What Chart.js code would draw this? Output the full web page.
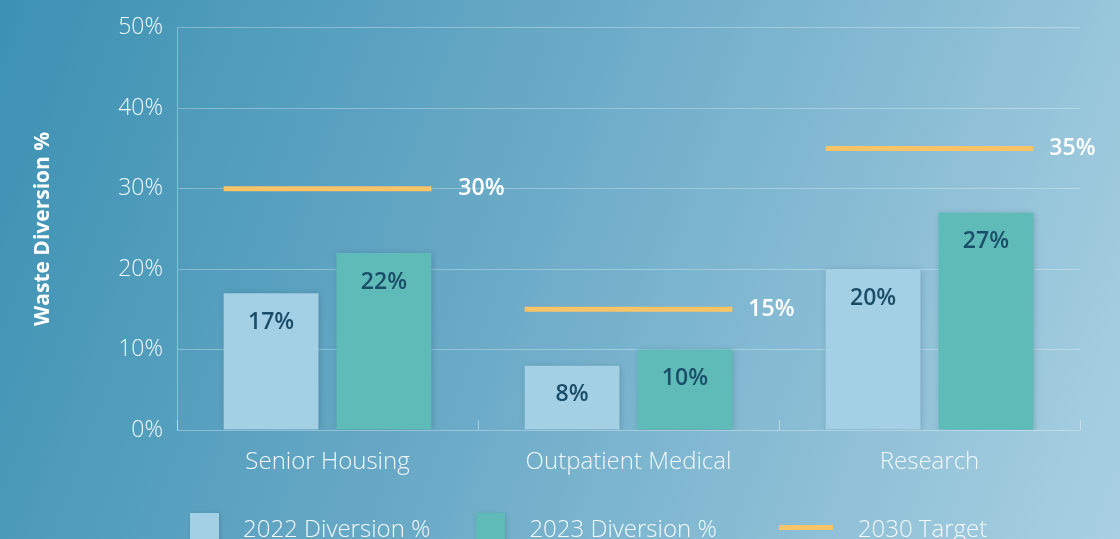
<!DOCTYPE html>
<html>
<head>
<meta charset="utf-8">
<script src="https://cdn.jsdelivr.net/npm/chart.js@4/dist/chart.umd.min.js"></script>
<style>
  html, body { margin: 0; padding: 0; }
  body {
    width: 1120px; height: 539px; overflow: hidden; position: relative;
    background: linear-gradient(110deg, #3c91b3 0%, #6aaac7 45%, #a9d0e2 100%);
    font-family: "Open Sans", Lato, sans-serif;
  }
  #grafica { position: absolute; left: 0; top: 0; }
  #legend {
    position: absolute; left: 190px; top: 511px;
    display: flex; align-items: center; color: #f4f9fc;
    font-size: 24px; font-weight: 300;
  }
  .item { display: flex; align-items: center; }
  .item:nth-child(1) { margin-right: 46px; }
  .item:nth-child(2) { margin-right: 62px; }
  .box { width: 29px; height: 30px; margin-right: 24px; box-shadow: 1px 1px 4px rgba(0,0,0,0.15); }
  .ln { width: 54px; height: 5px; margin-right: 25px; }
</style>
</head>
<body>
<canvas id="grafica" width="1120" height="539"></canvas>
<div id="legend"></div>
<script>
// categorias y valores
const categorias = ["Senior Housing", "Outpatient Medical", "Research"];
const diversion2022 = [17, 8, 20];
const diversion2023 = [22, 10, 27];
const meta2030 = [30, 15, 35];
const ticksY = [0, 10, 20, 30, 40, 50];

const color2022 = "#a3d0e5";
const color2023 = "#5fbbb7";
const colorMeta = "#f9c466";
const fuente = "'Open Sans', Lato, sans-serif";
const separacionEtiquetaMeta = [27, 16, 16]; // espacio entre la linea y su texto

const $grafica = document.querySelector("#grafica");

// sombra suave para las barras
const sombraBarras = {
  id: "sombraBarras",
  beforeDatasetDraw(chart, args) {
    if (args.index > 1) return;
    const ctx = chart.ctx;
    ctx.save();
    ctx.shadowColor = "rgba(20,50,70,0.25)";
    ctx.shadowBlur = 6;
    ctx.shadowOffsetX = 1;
    ctx.shadowOffsetY = 1;
  },
  afterDatasetDraw(chart, args) {
    if (args.index > 1) return;
    chart.ctx.restore();
  }
};

// linea de meta: abarca el ancho del grupo de barras de cada categoria
const lineaMeta = {
  id: "lineaMeta",
  afterDatasetsDraw(chart) {
    const ctx = chart.ctx;
    const b0 = chart.getDatasetMeta(0).data;
    const b1 = chart.getDatasetMeta(1).data;
    const puntos = chart.getDatasetMeta(2).data;
    const datosT = chart.data.datasets[2].data;
    ctx.save();
    puntos.forEach((pt, j) => {
      const x1 = b0[j].x - b0[j].width / 2;
      const x2 = b1[j].x + b1[j].width / 2;
      ctx.strokeStyle = colorMeta;
      ctx.lineWidth = 5;
      ctx.beginPath();
      ctx.moveTo(x1, pt.y);
      ctx.lineTo(x2, pt.y);
      ctx.stroke();
      ctx.fillStyle = "#ffffff";
      ctx.font = "600 23px " + fuente;
      ctx.textAlign = "left";
      ctx.textBaseline = "middle";
      ctx.fillText(datosT[j] + "%", x2 + separacionEtiquetaMeta[j], pt.y);
    });
    // etiquetas de las barras
    ctx.font = "600 23px " + fuente;
    ctx.textAlign = "center";
    ctx.fillStyle = "#1b4e69";
    [0, 1].forEach(i => {
      const datos = chart.data.datasets[i].data;
      chart.getDatasetMeta(i).data.forEach((bar, j) => {
        ctx.fillText(datos[j] + "%", bar.x, bar.y + 29);
      });
    });
    ctx.restore();
  }
};

const grafico = new Chart($grafica, {
  type: "bar",
  data: {
    labels: categorias,
    datasets: [
      {
        label: "2022 Diversion %",
        data: diversion2022,
        backgroundColor: color2022,
        categoryPercentage: 0.75,
        barPercentage: 0.84
      },
      {
        label: "2023 Diversion %",
        data: diversion2023,
        backgroundColor: color2023,
        categoryPercentage: 0.75,
        barPercentage: 0.84
      },
      {
        type: "line",
        label: "2030 Target",
        data: meta2030,
        showLine: false,
        pointRadius: 0,
        borderColor: colorMeta
      }
    ]
  },
  options: {
    responsive: false,
    animation: false,
    layout: { padding: { top: 17, right: 40, left: 0, bottom: 0 } },
    plugins: {
      legend: { display: false },
      tooltip: { enabled: false }
    },
    scales: {
      x: {
        grid: {
          offset: true,
          drawOnChartArea: false,
          drawTicks: true,
          tickLength: -10,
          color: "rgba(255,255,255,0.4)"
        },
        border: { display: false },
        ticks: {
          color: "#f2f8fb",
          font: { family: fuente, size: 24, weight: 300 },
          padding: 28
        },
        afterFit(scale) { scale.height = 109; }
      },
      y: {
        min: ticksY[0],
        max: ticksY[ticksY.length - 1],
        afterBuildTicks(scale) { scale.ticks = ticksY.map(v => ({ value: v })); },
        grid: {
          color: "rgba(255,255,255,0.3)",
          drawTicks: false
        },
        border: { color: "rgba(255,255,255,0.35)" },
        ticks: {
          color: "#f2f8fb",
          padding: 14,
          font: { family: fuente, size: 23, weight: 300 },
          callback: v => v + "%"
        },
        title: {
          display: true,
          text: "Waste Diversion %",
          color: "#ffffff",
          font: { family: fuente, size: 21, weight: "bold" },
          padding: { top: 30, bottom: 0 }
        },
        afterFit(scale) { scale.width = 177; }
      }
    }
  },
  plugins: [sombraBarras, lineaMeta]
});

// leyenda en HTML
const $leyenda = document.querySelector("#legend");
grafico.data.datasets.forEach((ds, i) => {
  const item = document.createElement("div");
  item.className = "item";
  const marca = document.createElement("div");
  marca.className = ds.type === "line" ? "ln" : "box";
  marca.style.background = ds.type === "line" ? ds.borderColor : ds.backgroundColor;
  const texto = document.createElement("span");
  texto.textContent = ds.label;
  item.appendChild(marca);
  item.appendChild(texto);
  $leyenda.appendChild(item);
});
</script>
</body>
</html>
